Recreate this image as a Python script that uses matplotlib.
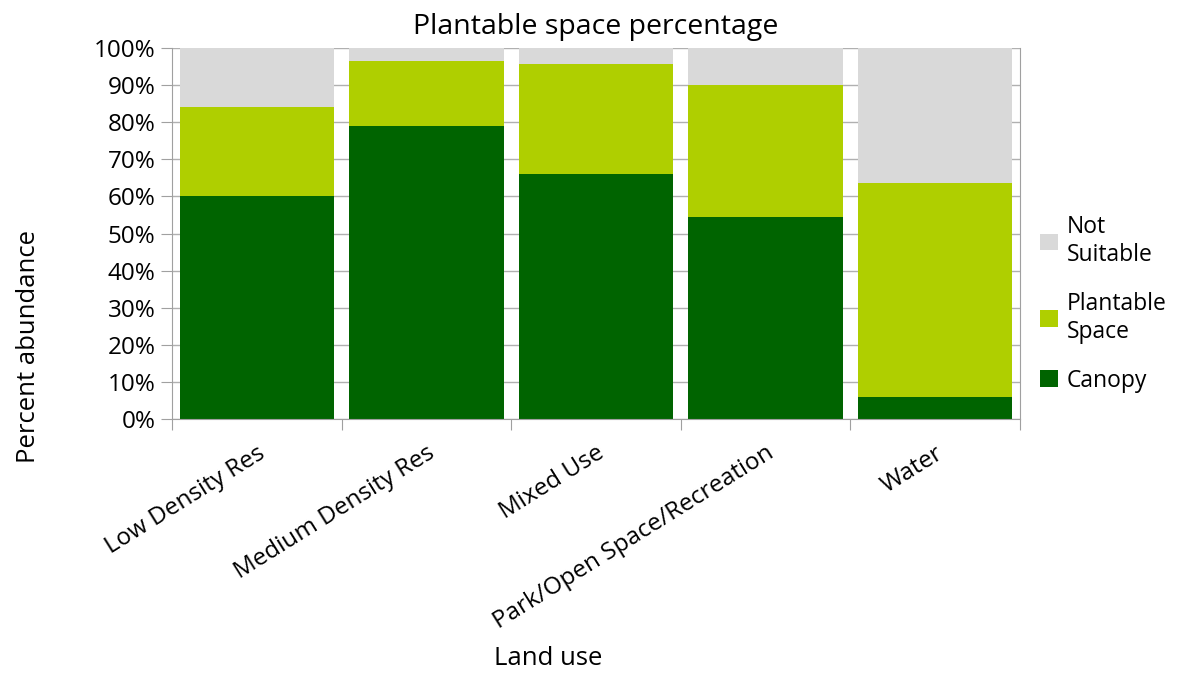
import matplotlib.pyplot as plt
import numpy as np

plt.rcParams['font.family'] = ['Open Sans', 'DejaVu Sans']

categorias = ['Low Density Res', 'Medium Density Res', 'Mixed Use',
              'Park/Open Space/Recreation', 'Water']
canopy = [60.0, 79.0, 66.0, 54.5, 6.0]
plantable = [24.0, 17.5, 29.7, 35.5, 57.5]
not_suitable = [16.0, 3.5, 4.3, 10.0, 36.5]

c_canopy = '#006400'
c_plant = '#afcf00'
c_not = '#d9d9d9'

fig = plt.figure(figsize=(11.84, 6.8), dpi=100)
ax = fig.add_axes([0.1453, 0.3838, 0.716, 0.5456])

x = np.arange(len(categorias))
ancho = 0.91
base2 = np.array(canopy)
base3 = base2 + np.array(plantable)

ax.bar(x, canopy, ancho, color=c_canopy, label='Canopy', zorder=2)
ax.bar(x, plantable, ancho, bottom=base2, color=c_plant, label='Plantable\nSpace', zorder=2)
ax.bar(x, not_suitable, ancho, bottom=base3, color=c_not, label='Not\nSuitable', zorder=2)

ax.set_xlim(-0.5, len(categorias) - 0.5)
ax.set_ylim(0, 100)
ax.set_yticks(np.arange(0, 101, 10))
ax.set_yticklabels([f'{v}%' for v in range(0, 101, 10)], fontsize=17.5)
ax.yaxis.grid(True, color='#b0b0b0', linewidth=1, zorder=0)
ax.set_axisbelow(True)

# ticks del eje x en los bordes de cada categoria
ax.set_xticks(np.arange(-0.5, len(categorias), 1.0), minor=False)
ax.set_xticklabels([])
ax.set_xticks(x, minor=True)
ax.set_xticklabels(categorias, minor=True, rotation=32, ha='right',
                   rotation_mode='anchor', fontsize=17.5)
ax.tick_params(axis='x', which='major', length=8, color='#a0a0a0')
ax.tick_params(axis='x', which='minor', length=0, pad=16)
ax.tick_params(axis='y', length=8, color='#a0a0a0', pad=4)

for s in ['left', 'bottom', 'right']:
    ax.spines[s].set_color('#a0a0a0')
ax.spines['top'].set_visible(False)

ax.set_title('Plantable space percentage', fontsize=20.5, pad=10)
fig.text(0.024, 0.49, 'Percent abundance', fontsize=18.5, rotation=90,
         ha='center', va='center')
fig.text(0.463, 0.022, 'Land use', fontsize=18.5, ha='center')

h, l = ax.get_legend_handles_labels()
ax.legend(h[::-1], l[::-1], loc='center left', bbox_to_anchor=(1.0, 0.31),
          frameon=False, fontsize=16.5, handlelength=0.75, handleheight=0.75,
          handletextpad=0.4, labelspacing=1.1)

fig.savefig('out.png', dpi=100)
